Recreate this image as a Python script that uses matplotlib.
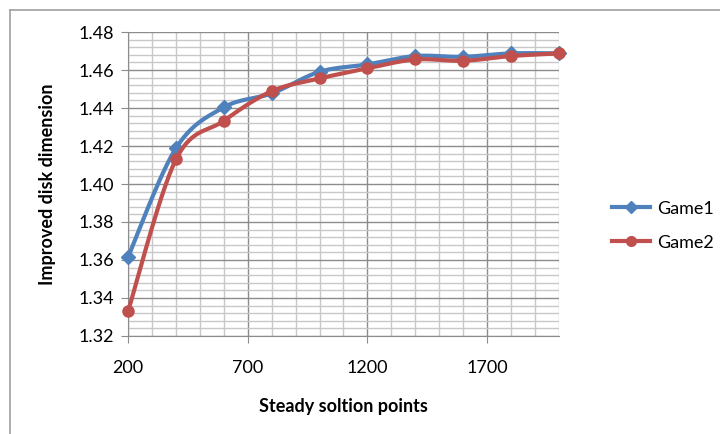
import numpy as np
import matplotlib.pyplot as plt
from matplotlib.lines import Line2D
from matplotlib.ticker import MultipleLocator

plt.rcParams["font.family"] = ["Lato", "DejaVu Sans"]

points = [200, 400, 600, 800, 1000, 1200, 1400, 1600, 1800, 2000]
game1 = [1.3617, 1.4189, 1.4404, 1.4477, 1.4591, 1.4630, 1.4674, 1.4670, 1.4688, 1.4688]
game2 = [1.3332, 1.4130, 1.4333, 1.4489, 1.4556, 1.4609, 1.4656, 1.4649, 1.4674, 1.4688]

x_ticks = [200, 700, 1200, 1700]
y_ticks = [1.32, 1.34, 1.36, 1.38, 1.40, 1.42, 1.44, 1.46, 1.48]


def smooth(x, y, n=30, tension=0.5):
    # cardinal spline through the points, like the spreadsheet "smoothed line"
    x = np.asarray(x, float)
    y = np.asarray(y, float)
    px = np.concatenate([[x[0]], x, [x[-1]]])
    py = np.concatenate([[y[0]], y, [y[-1]]])
    xs, ys = [], []
    t = np.linspace(0, 1, n)
    h1 = 2 * t**3 - 3 * t**2 + 1
    h2 = -2 * t**3 + 3 * t**2
    h3 = t**3 - 2 * t**2 + t
    h4 = t**3 - t**2
    for i in range(1, len(px) - 2):
        mx0 = tension * (px[i + 1] - px[i - 1])
        mx1 = tension * (px[i + 2] - px[i])
        my0 = tension * (py[i + 1] - py[i - 1])
        my1 = tension * (py[i + 2] - py[i])
        xs.append(h1 * px[i] + h2 * px[i + 1] + h3 * mx0 + h4 * mx1)
        ys.append(h1 * py[i] + h2 * py[i + 1] + h3 * my0 + h4 * my1)
    return np.concatenate(xs), np.concatenate(ys)


fig = plt.figure(figsize=(7.2, 4.34), dpi=100)
ax = fig.add_axes([0.178, 0.226, 0.598, 0.700])

blue = "#4F81BD"
red = "#C0504D"

sx, sy = smooth(points, game1)
ax.plot(sx, sy, color=blue, lw=3, zorder=3, clip_on=False)
ax.plot(points, game1, ls="none", marker="D", ms=7, color=blue, zorder=4, clip_on=False)
sx, sy = smooth(points, game2)
ax.plot(sx, sy, color=red, lw=3, zorder=5, clip_on=False)
ax.plot(points, game2, ls="none", marker="o", ms=8, color=red, zorder=6, clip_on=False)

ax.set_xlim(200, 2000)
ax.set_ylim(1.32, 1.48)
ax.set_xticks(x_ticks)
ax.set_yticks(y_ticks)
ax.set_yticklabels([f"{v:.2f}" for v in y_ticks])
ax.xaxis.set_minor_locator(MultipleLocator(100))
ax.yaxis.set_minor_locator(MultipleLocator(0.004))

ax.grid(which="major", color="#8c8c8c", lw=1.0, zorder=0)
ax.grid(which="minor", color="#c8c8c8", lw=1.0, zorder=0)
ax.set_axisbelow(True)

for s in ["top", "right"]:
    ax.spines[s].set_visible(False)
ax.spines["left"].set_color("#8c8c8c")
ax.spines["bottom"].set_color("#8c8c8c")
ax.tick_params(which="major", length=5, color="#8c8c8c", labelsize=13, labelcolor="#000000")
ax.tick_params(which="minor", length=0)
ax.tick_params(axis="x", pad=12)
ax.tick_params(axis="y", pad=5)

ax.set_xlabel("Steady soltion points", fontsize=13, fontweight="bold", labelpad=16)
ax.set_ylabel("Improved disk dimension", fontsize=13, fontweight="bold", labelpad=16)

handles = [
    Line2D([], [], color=blue, lw=3, marker="D", ms=6),
    Line2D([], [], color=red, lw=3, marker="o", ms=7),
]
fig.legend(handles, ["Game1", "Game2"], loc="center left",
           bbox_to_anchor=(0.828, 0.48), frameon=False, fontsize=13,
           handlelength=2.1, labelspacing=1.0, handletextpad=0.4)

# chart border (top and left only visible in the crop)
fig.add_artist(Line2D([10 / 720, 10 / 720], [0, 1 - 10 / 434], transform=fig.transFigure,
                      color="#a0a0a0", lw=1.2))
fig.add_artist(Line2D([10 / 720, 1], [1 - 10 / 434, 1 - 10 / 434], transform=fig.transFigure,
                      color="#a0a0a0", lw=1.2))

fig.savefig("out.png", dpi=100)
